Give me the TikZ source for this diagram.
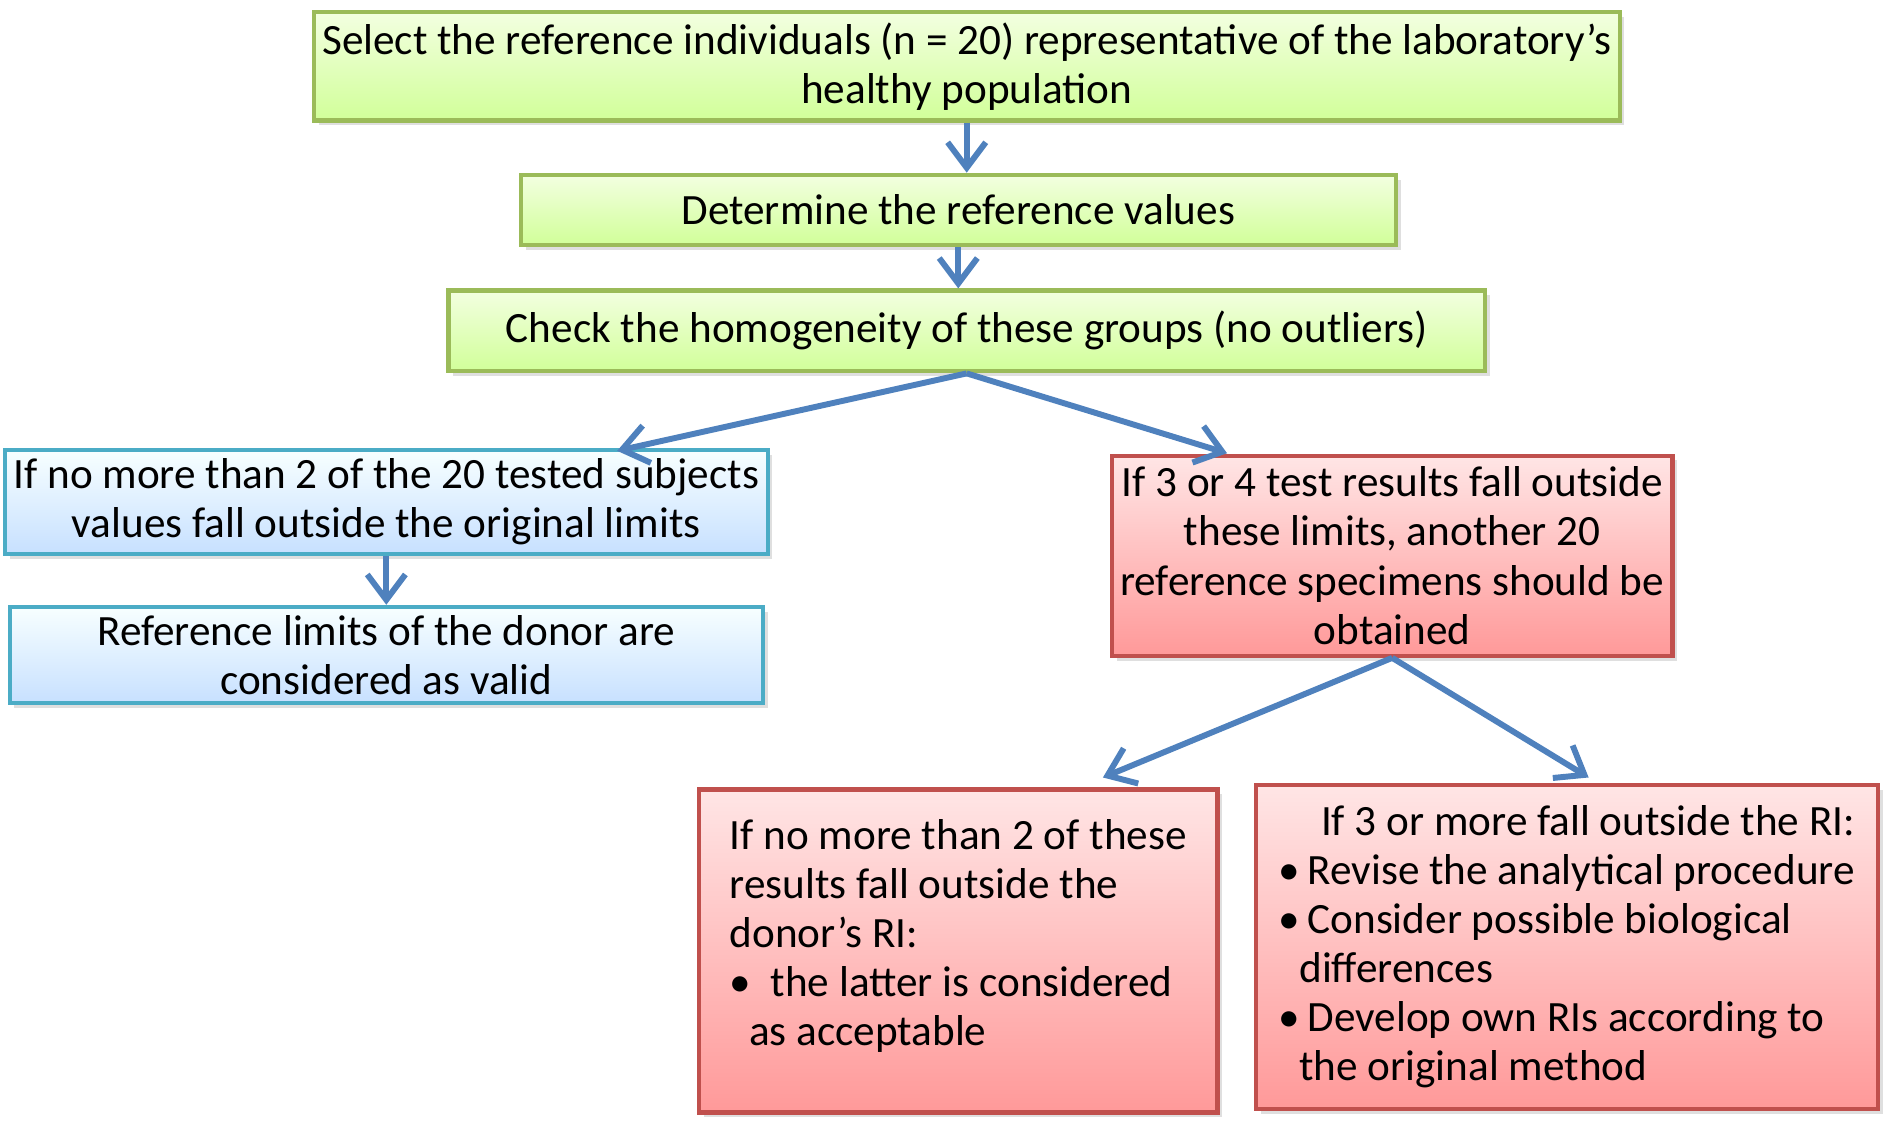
\documentclass[tikz,border=0pt]{standalone}
\usepackage{fontspec}
\setmainfont{Carlito}
\usetikzlibrary{arrows.meta,shadows}
\definecolor{grnline}{HTML}{9BBB59}
\definecolor{bluline}{HTML}{4BACC6}
\definecolor{redline}{HTML}{C0504D}
\definecolor{arrowblue}{HTML}{4F81BD}
\tikzset{
  box/.style={draw,line width=1pt,inner sep=2pt,align=center,
    font=\fontsize{10.2pt}{11.6pt}\selectfont,
    drop shadow={opacity=0.25,shadow xshift=0.04,shadow yshift=-0.04}},
  greenbox/.style={box,draw=grnline,top color=green!40!yellow!12,bottom color=green!45!yellow!40},
  bluebox/.style={box,draw=bluline,top color=cyan!3,bottom color=cyan!45!blue!22},
  redbox/.style={box,draw=redline,top color=red!10,bottom color=red!40},
  flow/.style={draw=arrowblue,line width=1.4pt,-{Straight Barb[length=6pt,width=9pt]}}
}
\begin{document}
\begin{tikzpicture}
  \useasboundingbox (0,0) rectangle (15.68,-9.37);
  \node[greenbox,minimum width=10.36cm,minimum height=0.9cm] (select) at (8.02,-0.55)
    {Select the reference individuals (n = 20) representative of the laboratory’s\\healthy population};
  \node[greenbox,minimum width=7.26cm,minimum height=0.58cm] (determine) at (7.95,-1.74)
    {Determine the reference values};
  \node[greenbox,minimum width=8.6cm,minimum height=0.67cm] (check) at (8.02,-2.745)
    {Check the homogeneity of these groups (no outliers)};
  \node[bluebox,minimum width=6.25cm,minimum height=0.81cm] (fewout) at (3.205,-4.165)
    {If no more than 2 of the 20 tested subjects\\values fall outside the original limits};
  \node[bluebox,minimum width=6.25cm,minimum height=0.67cm] (valid) at (3.205,-5.435)
    {Reference limits of the donor are\\considered as valid};
  \node[redbox,minimum width=4.58cm,minimum height=1.66cm] (moreout) at (11.55,-4.61)
    {If 3 or 4 test results fall outside\\these limits, another 20\\reference specimens should be\\obtained};
  \node[redbox,minimum width=4.3cm,minimum height=2.68cm,align=left] (accept) at (7.95,-7.89)
    {If no more than 2 of these\\results fall outside the\\donor’s RI:\\
     \textbullet\ \ the latter is considered\\\hspace*{0.16cm}as acceptable\\[-0.1cm]};
  \node[redbox,minimum width=5.16cm,minimum height=2.69cm,align=left] (revise) at (13.0,-7.855)
    {\hspace*{0.35cm}If 3 or more fall outside the RI:\\
     \textbullet\,Revise the analytical procedure\\
     \textbullet\,Consider possible biological\\\hspace*{0.17cm}differences\\
     \textbullet\,Develop own RIs according to\\\hspace*{0.17cm}the original method};
  % connectors
  \draw[flow] (select) -- (select|-determine.north);
  \draw[flow] (determine) -- (determine|-check.north);
  \coordinate (split) at (check.south);
  \draw[flow] (split) -- (5.12,-3.74);
  \draw[flow] (split) -- (10.18,-3.76);
  \draw[flow] (fewout.south) -- (valid.north);
  \coordinate (split2) at (moreout.south);
  \draw[flow] (split2) -- (9.15,-6.45);
  \draw[flow] (split2) -- (13.18,-6.45);
\end{tikzpicture}
\end{document}
